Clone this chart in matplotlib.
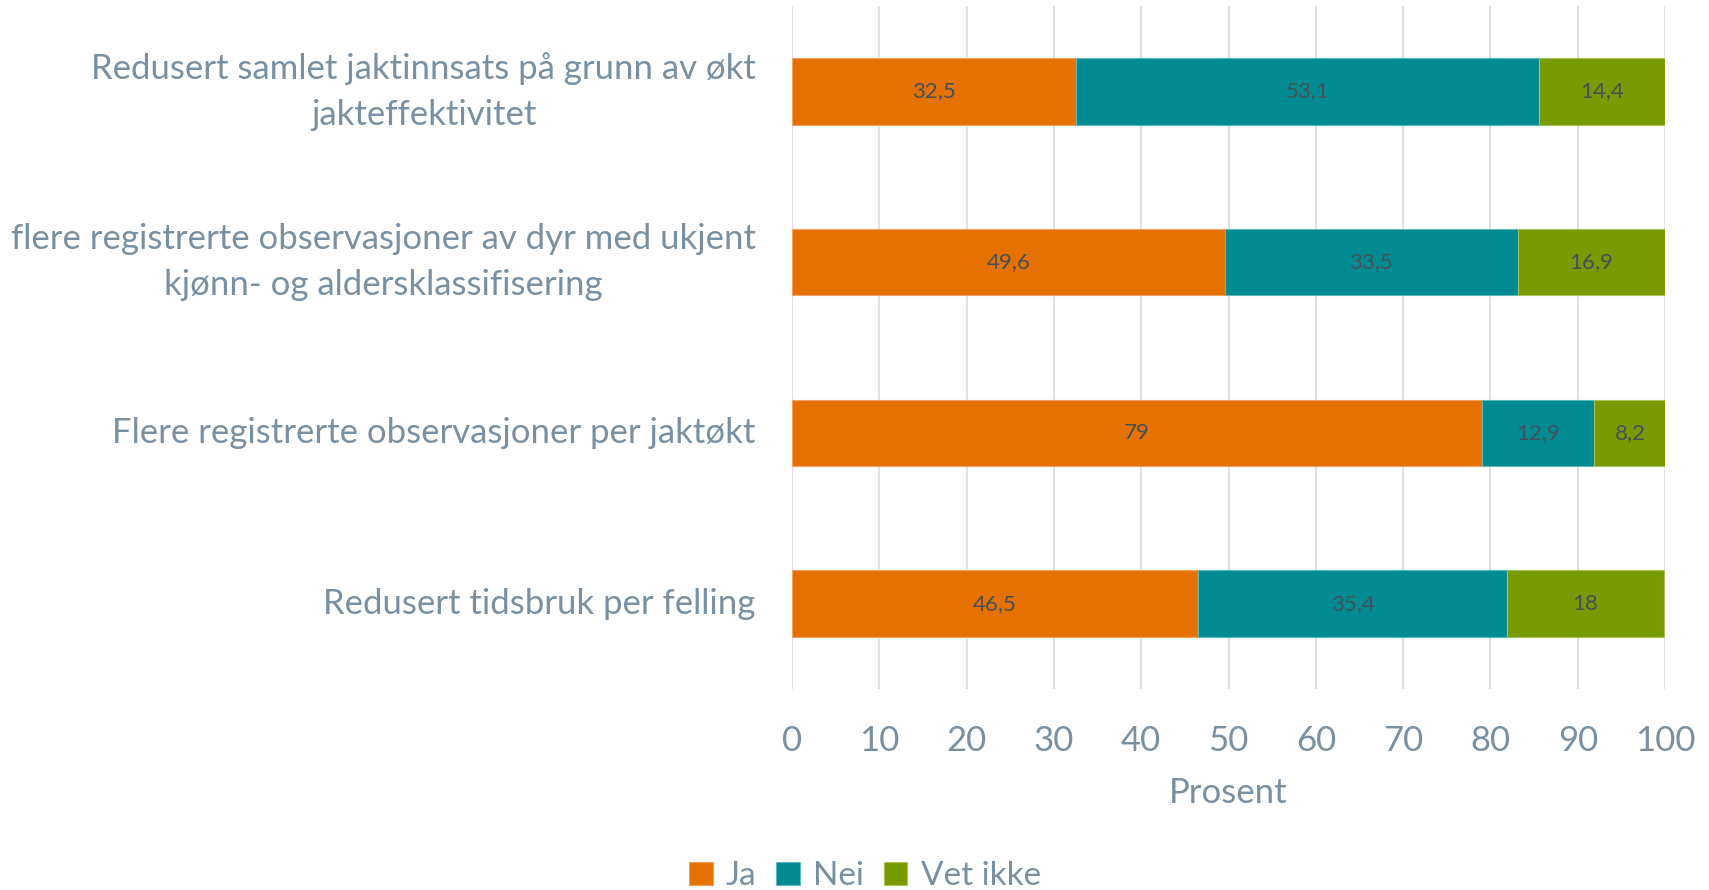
import numpy as np
import matplotlib.pyplot as plt

plt.rcParams['font.family'] = ['Lato', 'DejaVu Sans']

categories = [
    "Redusert samlet jaktinnsats på grunn av økt\njakteffektivitet",
    "flere registrerte observasjoner av dyr med ukjent\nkjønn- og aldersklassifisering",
    "Flere registrerte observasjoner per jaktøkt",
    "Redusert tidsbruk per felling",
]
ja = [32.5, 49.6, 79, 46.5]
nei = [53.1, 33.5, 12.9, 35.4]
vet_ikke = [14.4, 16.9, 8.2, 18]
series_names = ["Ja", "Nei", "Vet ikke"]
colors = ["#E57200", "#008B92", "#7A9A01"]
edges = ["#F0A060", "#5FB8BC", "#A8C060"]

text_col = "#7890A2"
label_col = "#46505A"

fig = plt.figure(figsize=(17.09, 8.90), dpi=100)
ax = fig.add_axes([0.4634, 0.2258, 0.5109, 0.7675])

y = np.arange(len(categories))
left = np.zeros(len(categories))
handles = []
for vals, name, c, ec in zip([ja, nei, vet_ikke], series_names, colors, edges):
    vals = np.array(vals, dtype=float)
    bars = ax.barh(y, vals, left=left, height=0.39, color=c, edgecolor=ec,
                   linewidth=0.8, label=name, zorder=3)
    handles.append(bars)
    for yi, l, v in zip(y, left, vals):
        txt = f"{v:g}".replace(".", ",")
        ax.text(l + v / 2, yi, txt, ha="center", va="center",
                fontsize=16, color=label_col, zorder=4)
    left += vals

ax.set_ylim(len(categories) - 0.5, -0.5)
ax.set_xlim(0, 100)
ax.set_xticks(np.arange(0, 101, 10))
ax.set_yticks(y)
ax.set_yticklabels(categories, fontsize=25, color=text_col,
                   multialignment="center", linespacing=1.55)
for lab in ax.get_yticklabels():
    lab.set_va("center")
ax.tick_params(axis="x", labelsize=25, colors=text_col, length=0, pad=26)
ax.tick_params(axis="y", length=0, pad=26)
ax.grid(axis="x", color="#DCE1E6", linewidth=1.5, zorder=0)
for s in ax.spines.values():
    s.set_visible(False)
ax.set_xlabel("Prosent", fontsize=25, color=text_col, labelpad=14)

leg = fig.legend(handles=handles, labels=series_names, loc="center",
                 bbox_to_anchor=(865 / 1709, 1 - 876 / 890), ncol=3,
                 frameon=False, fontsize=24, handlelength=0.7, handleheight=0.7,
                 handletextpad=0.4, columnspacing=0.6)
for t in leg.get_texts():
    t.set_color(text_col)

fig.savefig("out.png", dpi=100)
